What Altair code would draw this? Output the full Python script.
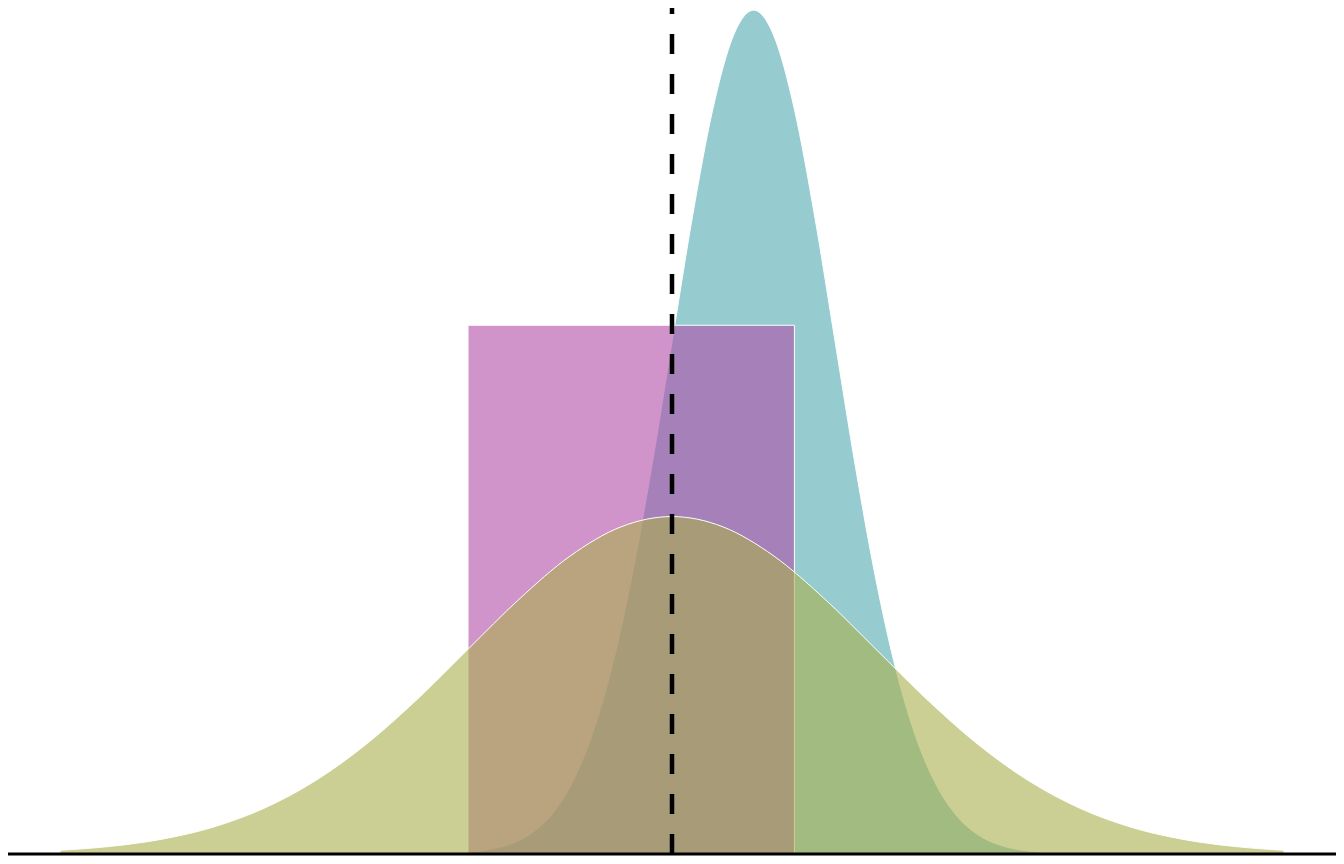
import altair as alt
import pandas as pd

# Narrow (teal) distribution
teal_x = [-1.0, -0.9, -0.8, -0.7, -0.6, -0.5, -0.4, -0.3, -0.2, -0.1,
          0.0, 0.1, 0.2, 0.3, 0.4, 0.5, 0.6, 0.7, 0.8, 0.9,
          1.0, 1.1, 1.2, 1.3, 1.4, 1.5, 1.6, 1.7, 1.8]
teal_d = [0.0022, 0.0051, 0.0111, 0.0227, 0.0438, 0.0794, 0.1350, 0.2157, 0.3238, 0.4566,
          0.6049, 0.7529, 0.8802, 0.9667, 0.9974, 0.9667, 0.8802, 0.7529, 0.6049, 0.4566,
          0.3238, 0.2157, 0.1350, 0.0794, 0.0438, 0.0227, 0.0111, 0.0051, 0.0022]

# Uniform (magenta) block
unif_low = [-1.0]
unif_high = [0.6]
unif_d = [0.625]

# Wide bell-shaped (olive) distribution
norm_x = [-3.0, -2.75, -2.5, -2.25, -2.0, -1.75, -1.5, -1.25, -1.0, -0.75, -0.5, -0.25, 0.0,
          0.25, 0.5, 0.75, 1.0, 1.25, 1.5, 1.75, 2.0, 2.25, 2.5, 2.75, 3.0]
norm_d = [0.0044, 0.0091, 0.0175, 0.0317, 0.0540, 0.0863, 0.1295, 0.1826, 0.2420, 0.3011,
          0.3521, 0.3867, 0.3989, 0.3867, 0.3521, 0.3011, 0.2420, 0.1826, 0.1295, 0.0863,
          0.0540, 0.0317, 0.0175, 0.0091, 0.0044]

mean_x = [0.0]

W, H = 1328, 846
xs = alt.Scale(domain=[-3.255, 3.255], nice=False, zero=False)
ys = alt.Scale(domain=[0, 1.0], nice=False, zero=True)

teal = alt.Chart(pd.DataFrame({"x": teal_x, "d": teal_d})).mark_area(
    color="#50AAB1", fillOpacity=0.6, stroke="white", strokeWidth=1, interpolate="monotone"
).encode(
    x=alt.X("x:Q", scale=xs, axis=None),
    y=alt.Y("d:Q", scale=ys, axis=None),
)

unif = alt.Chart(pd.DataFrame({"lo": unif_low, "hi": unif_high, "d": unif_d, "z": [0.0]})).mark_rect(
    color="#B14DA8", fillOpacity=0.6, stroke="white", strokeWidth=1
).encode(
    x=alt.X("lo:Q", scale=xs, axis=None),
    x2="hi:Q",
    y=alt.Y("d:Q", scale=ys, axis=None),
    y2="z:Q",
)

norm = alt.Chart(pd.DataFrame({"x": norm_x, "d": norm_d})).mark_area(
    color="#AAAF4D", fillOpacity=0.6, stroke="white", strokeWidth=1, interpolate="monotone"
).encode(
    x=alt.X("x:Q", scale=xs, axis=None),
    y=alt.Y("d:Q", scale=ys, axis=None),
)

mean_rule = alt.Chart(pd.DataFrame({"m": mean_x, "z": [0.0]})).mark_rule(
    color="black", strokeWidth=4.5, strokeDash=[20, 20]
).encode(
    x=alt.X("m:Q", scale=xs, axis=None),
    y=alt.Y("z:Q", scale=ys, axis=None),
    y2=alt.value(0),
)

base_rule = alt.Chart(pd.DataFrame({"b": [0.0]})).mark_rule(
    color="black", strokeWidth=3
).encode(
    x=alt.value(0),
    x2=alt.value(W),
    y=alt.Y("b:Q", scale=ys, axis=None),
)

chart = alt.layer(teal, unif, norm, mean_rule, base_rule).properties(
    width=W, height=H,
    autosize=alt.AutoSizeParams(type="none"),
    padding={"left": 0, "right": 0, "top": 0, "bottom": 2},
    background="white",
).configure_view(stroke=None)

chart.save("out.html", embed_options={"renderer": "svg", "actions": False})
